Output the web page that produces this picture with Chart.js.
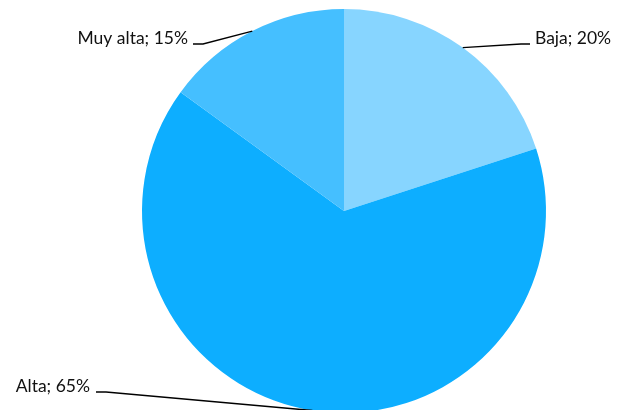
<!DOCTYPE html>
<html>
<head>
<meta charset="utf-8">
<script src="https://cdn.jsdelivr.net/npm/chart.js@4/dist/chart.umd.min.js"></script>
<style>
  html, body { margin: 0; padding: 0; background: #fff; overflow: hidden; }
  #wrap { position: relative; width: 621px; height: 420px; }
</style>
</head>
<body>
<div id="wrap"><canvas id="pieChart"></canvas></div>
<script>
// Chart data
const categories = ['Baja', 'Alta', 'Muy alta'];
const percentages = [20, 65, 15];
const sliceColors = ['#87d5ff', '#0daeff', '#45bfff'];

// Label placement (layout only): text anchor, alignment, elbow of the leader line
const labelLayout = [
    { tx: 535, ty: 38, align: 'left',  lx: 530, elbow: 521, ly: 44 },
    { tx: 90,  ty: 386, align: 'right', lx: 96, elbow: 106, ly: 392 },
    { tx: 188, ty: 38, align: 'right', lx: 193, elbow: 203, ly: 44 }
];

// Draw "Category; NN%" labels with leader lines
const pieLabels = {
    id: 'pieLabels',
    afterDatasetsDraw(chart) {
        const ctx = chart.ctx;
        const arcs = chart.getDatasetMeta(0).data;
        ctx.save();
        ctx.font = '17.5px Lato, "Liberation Sans", sans-serif';
        ctx.fillStyle = '#111';
        ctx.strokeStyle = '#000';
        ctx.lineWidth = 1.3;
        arcs.forEach((arc, i) => {
            const p = arc.getProps(['x', 'y', 'startAngle', 'endAngle', 'outerRadius'], true);
            const mid = (p.startAngle + p.endAngle) / 2;
            const ex = p.x + Math.cos(mid) * p.outerRadius;
            const ey = p.y + Math.sin(mid) * p.outerRadius;
            const L = labelLayout[i];
            ctx.beginPath();
            ctx.moveTo(ex, ey);
            ctx.lineTo(L.elbow, L.ly);
            ctx.lineTo(L.lx, L.ly);
            ctx.stroke();
            ctx.textAlign = L.align;
            ctx.textBaseline = 'middle';
            ctx.fillText(categories[i] + '; ' + percentages[i] + '%', L.tx, L.ty);
        });
        ctx.restore();
    }
};

new Chart(document.getElementById('pieChart'), {
    type: 'pie',
    data: {
        labels: categories,
        datasets: [{
            data: percentages,
            backgroundColor: sliceColors,
            borderWidth: 0
        }]
    },
    options: {
        responsive: true,
        maintainAspectRatio: false,
        animation: false,
        layout: { padding: { top: 9, bottom: 7, left: 142, right: 75 } },
        plugins: {
            legend: { display: false },
            tooltip: { enabled: false }
        }
    },
    plugins: [pieLabels]
});
</script>
</body>
</html>
